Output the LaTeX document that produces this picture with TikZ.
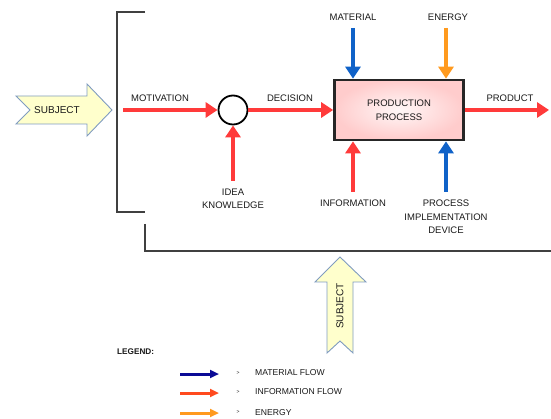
\documentclass[tikz,border=0pt]{standalone}
\usepackage{fontspec}
\setmainfont{Liberation Sans}
\usetikzlibrary{arrows.meta}
\definecolor{infored}{RGB}{255,58,58}
\definecolor{matblue}{RGB}{16,98,200}
\definecolor{enorange}{RGB}{255,154,30}
\definecolor{legblue}{RGB}{10,10,150}
\definecolor{legred}{RGB}{255,74,30}
\definecolor{subjfill}{RGB}{255,255,204}
\definecolor{subjedge}{RGB}{128,156,192}
\definecolor{txt}{RGB}{25,25,25}
\begin{document}
\begin{tikzpicture}[x=1pt,y=-1pt,
  lbl/.style={font=\fontsize{9.5}{13.5}\selectfont, inner sep=0pt, align=center, text=txt},
  leglbl/.style={font=\fontsize{8.6}{10}\selectfont, inner sep=0pt, anchor=west, text=txt},
  flow/.style={line width=4.6pt, -{Triangle[length=12pt,width=15pt]}},
  info/.style={flow, draw=infored, fill=infored},
  matflow/.style={flow, draw=matblue, fill=matblue},
  enflow/.style={flow, draw=enorange, fill=enorange},
  legarrow/.style={line width=3pt, -{Triangle[length=9pt,width=8pt]}},
  subjarrow/.style={fill=subjfill, draw=subjedge, line width=0.9pt, line join=miter},
  frame/.style={draw=black!75, line width=1.2pt},
]
\useasboundingbox (0,0) rectangle (551,419);

% brackets framing the process
\draw[frame] (145,12) -- (117,12) -- (117,212) -- (145,212);
\draw[frame] (145,224) -- (145,251) -- (551,251);

% subject arrow entering from the left
\draw[subjarrow] (16,96) -- (87,96) -- (87,84) -- (112,110) -- (87,136) -- (87,124)
  -- (16,124) -- (30,110) -- cycle;
\node[lbl, font=\fontsize{10}{12}\selectfont] (subjL) at (57,110) {SUBJECT};

% subject arrow from below
\draw[subjarrow] (340,257) -- (366,282) -- (353,282) -- (353,353) -- (340,341)
  -- (327,353) -- (327,282) -- (315,282) -- cycle;
\node[lbl, font=\fontsize{10}{12}\selectfont, rotate=90] (subjB) at (340,306) {SUBJECT};

% main nodes
\node[draw=black, line width=1.8pt, circle, minimum size=29pt, inner sep=0pt, fill=white] (c) at (233,110) {};
\node[draw=black!85, line width=2.6pt, minimum width=129pt, minimum height=60pt,
  inner color=red!3, outer color=red!20, lbl] (pp) at (399,110) {PRODUCTION\\PROCESS};

% free ends of the connectors
\coordinate (motS) at (123,110);
\coordinate (ideaS) at (233,181);
\coordinate (matS) at (353,28);
\coordinate (enS) at (446,28);
\coordinate (infS) at (353,192);
\coordinate (devS) at (446,192);
\coordinate (prodE) at (549,110);

% connectors
\draw[info] (motS) -- (c);
\draw[info] (c) -- (pp);
\draw[info] (ideaS) -- (c);
\draw[info] (pp) -- (prodE);
\draw[matflow] (matS) -- (matS |- pp.north);
\draw[enflow] (enS) -- (enS |- pp.north);
\draw[info] (infS) -- (infS |- pp.south);
\draw[matflow] (devS) -- (devS |- pp.south);

% labels
\node[lbl] (motL) at (160,98) {MOTIVATION};
\node[lbl] (decL) at (290,98) {DECISION};
\node[lbl] (prodL) at (510,98) {PRODUCT};
\node[lbl] (matL) at (353,17) {MATERIAL};
\node[lbl] (enL) at (448,17) {ENERGY};
\node[lbl] (ideaL) at (233,199) {IDEA\\KNOWLEDGE};
\node[lbl] (infL) at (353,203) {INFORMATION};
\node[lbl] (devL) at (446,217) {PROCESS\\IMPLEMENTATION\\DEVICE};

% legend
\node[font=\fontsize{8.2}{10}\selectfont\bfseries, inner sep=0pt, anchor=west, text=txt] (legT) at (117,352) {LEGEND:};
\coordinate (l1a) at (180,374); \coordinate (l1b) at (219,374);
\coordinate (l2a) at (180,393); \coordinate (l2b) at (219,393);
\coordinate (l3a) at (180,413); \coordinate (l3b) at (219,413);
\draw[legarrow, draw=legblue, fill=legblue] (l1a) -- (l1b);
\draw[legarrow, draw=legred, fill=legred] (l2a) -- (l2b);
\draw[legarrow, draw=enorange, fill=enorange] (l3a) -- (l3b);
\node[font=\fontsize{5}{6}\selectfont, inner sep=0pt, text=txt] (m1) at (238,373) {>};
\node[font=\fontsize{5}{6}\selectfont, inner sep=0pt, text=txt] (m2) at (238,392) {>};
\node[font=\fontsize{5}{6}\selectfont, inner sep=0pt, text=txt] (m3) at (238,412) {>};
\node[leglbl] (k1) at (255,373) {MATERIAL FLOW};
\node[leglbl] (k2) at (255,392) {INFORMATION FLOW};
\node[leglbl] (k3) at (255,413) {ENERGY};
\end{tikzpicture}
\end{document}
